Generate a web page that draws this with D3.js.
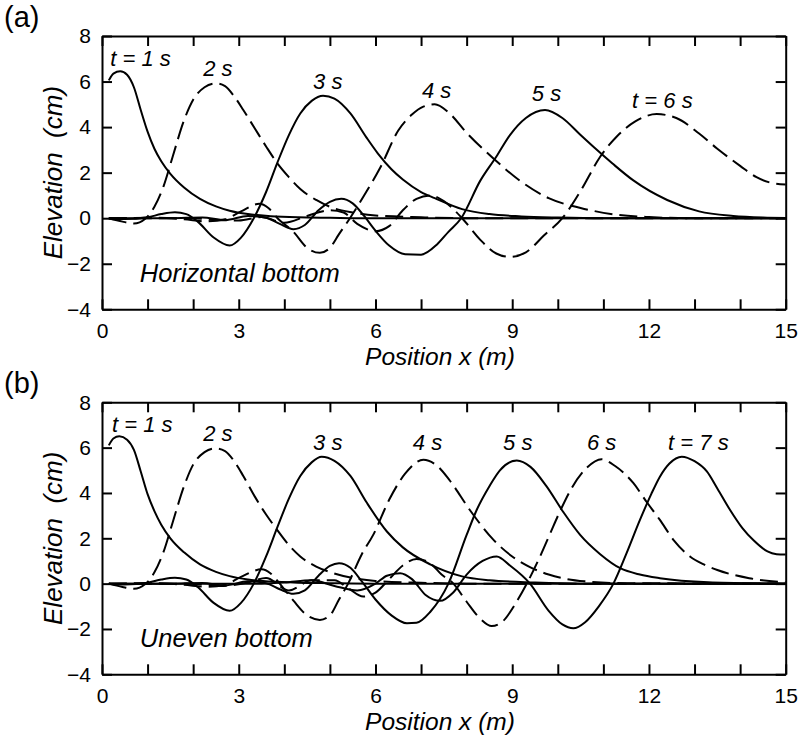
<!DOCTYPE html>
<html>
<head>
<meta charset="utf-8">
<script src="https://cdn.jsdelivr.net/npm/d3@7"></script>
<style>
  body { margin: 0; background: white; }
  text { font-family: "Liberation Sans", Arial, sans-serif; }
</style>
</head>
<body>
<div id="chart"></div>
<script>
//Axis ticks
var xTicks = d3.range(0, 16, 1);
var xLabels = [0, 3, 6, 9, 12, 15];
var yTicks = [-4, -2, 0, 2, 4, 6, 8];

//(a) Horizontal bottom, wave profiles [x (m), elevation (cm)]
var topT1 = [[0.15,6.05],[0.25,6.35],[0.4,6.45],[0.55,6.3],[0.7,5.75],[0.85,4.75],[1.0,3.8],[1.15,3.05],[1.3,2.5],[1.5,1.95],[1.8,1.35],[2.15,0.85],[2.5,0.52],[2.8,0.33],[3.2,0.18],[3.7,0.09],[4.3,0.04],[5,0.02],[6,0],[15,0]];
var topT2 = [[0.15,0],[0.45,-0.15],[0.7,-0.23],[0.95,-0.02],[1.15,0.5],[1.35,1.4],[1.55,2.7],[1.8,4.3],[2.0,5.2],[2.25,5.75],[2.5,5.92],[2.7,5.8],[2.9,5.35],[3.1,4.75],[3.35,3.95],[3.6,3.15],[3.85,2.4],[4.1,1.8],[4.35,1.28],[4.7,0.8],[5.0,0.5],[5.5,0.25],[6,0.12],[7,0.04],[8,0],[15,0]];
var topT3 = [[0.15,0],[0.5,-0.04],[1.0,0.04],[1.3,0.18],[1.6,0.26],[1.85,0.18],[2.1,-0.15],[2.45,-0.85],[2.8,-1.2],[3.05,-0.85],[3.33,0],[3.6,1.15],[3.85,2.45],[4.1,3.65],[4.35,4.6],[4.6,5.15],[4.85,5.38],[5.1,5.25],[5.45,4.6],[5.8,3.55],[6.05,2.85],[6.35,2.15],[6.6,1.7],[7.0,1.15],[7.3,0.88],[7.9,0.4],[8.5,0.18],[9.2,0.08],[10,0.03],[11,0],[15,0]];
var topT4 = [[0.15,0],[1.2,0.02],[1.8,-0.05],[2.3,-0.14],[2.7,-0.05],[3.05,0.3],[3.45,0.63],[3.65,0.45],[3.85,0],[4.2,-0.6],[4.5,-1.3],[4.78,-1.52],[5.0,-1.3],[5.2,-0.7],[5.44,0],[5.75,1.0],[6.1,2.2],[6.5,3.85],[6.8,4.55],[7.05,4.9],[7.3,5.0],[7.6,4.65],[8.0,3.75],[8.6,2.6],[9.2,1.6],[9.8,0.88],[10.5,0.45],[11.3,0.15],[12,0.05],[13,0],[15,0]];
var topT5 = [[0.15,0],[1.5,0],[2.2,0.03],[2.7,-0.08],[3.2,0.1],[3.6,0.02],[3.9,-0.25],[4.2,-0.48],[4.45,-0.3],[4.75,0.35],[5.0,0.72],[5.25,0.85],[5.5,0.65],[5.75,0.1],[6.0,-0.55],[6.3,-1.2],[6.65,-1.58],[7.0,-1.6],[7.35,-1.15],[7.6,-0.6],[7.88,0],[8.3,1.65],[8.65,2.7],[8.95,3.65],[9.3,4.4],[9.72,4.75],[10.1,4.4],[10.5,3.65],[10.8,3.1],[11.2,2.4],[11.65,1.67],[12.4,0.8],[13.1,0.3],[13.85,0.1],[14.5,0.03],[15,0.01]];
var topT6 = [[0.15,0],[2.0,0],[2.5,-0.08],[3.0,-0.1],[3.5,0.05],[4.0,-0.2],[4.5,0.1],[5.0,0.35],[5.3,0.25],[5.6,-0.25],[6.0,-0.57],[6.3,-0.35],[6.6,0.35],[6.9,0.85],[7.2,1.0],[7.5,0.75],[7.9,0],[8.3,-0.95],[8.65,-1.55],[8.95,-1.7],[9.3,-1.5],[9.7,-0.75],[10.1,0],[10.5,1.2],[10.93,2.7],[11.3,3.6],[11.7,4.25],[12.17,4.57],[12.6,4.4],[13.1,3.72],[13.5,3.05],[14.0,2.3],[14.36,1.8],[14.65,1.57],[15,1.48]];

//(b) Uneven bottom, wave profiles
var botT1 = [[0.15,6.1],[0.25,6.4],[0.38,6.5],[0.55,6.35],[0.7,5.9],[0.85,4.95],[1.0,3.95],[1.15,3.2],[1.3,2.6],[1.5,2.0],[1.8,1.38],[2.15,0.85],[2.5,0.52],[2.8,0.33],[3.2,0.18],[3.7,0.09],[4.3,0.04],[5,0.02],[6,0],[15,0]];
var botT2 = [[0.15,0],[0.45,-0.15],[0.7,-0.23],[0.95,-0.02],[1.15,0.5],[1.35,1.4],[1.55,2.7],[1.8,4.3],[2.0,5.25],[2.25,5.8],[2.48,5.97],[2.7,5.85],[2.9,5.4],[3.1,4.75],[3.35,3.85],[3.6,3.05],[3.85,2.35],[4.1,1.7],[4.35,1.2],[4.7,0.75],[5.08,0.46],[5.5,0.25],[6,0.12],[7,0.04],[8,0],[15,0]];
var botT3 = [[0.15,0],[0.5,-0.04],[1.0,0.04],[1.3,0.18],[1.6,0.26],[1.85,0.18],[2.1,-0.15],[2.45,-0.85],[2.8,-1.2],[3.05,-0.85],[3.33,0],[3.6,1.2],[3.85,2.5],[4.1,3.75],[4.35,4.75],[4.6,5.35],[4.82,5.6],[5.1,5.42],[5.45,4.75],[5.8,3.6],[6.25,2.3],[6.6,1.6],[7.2,0.85],[7.9,0.32],[8.5,0.15],[9.5,0.05],[10.5,0],[15,0]];
var botT4 = [[0.15,0],[1.2,0.02],[1.8,-0.05],[2.3,-0.14],[2.7,-0.05],[3.05,0.3],[3.5,0.63],[3.7,0.45],[3.9,0],[4.2,-0.75],[4.5,-1.4],[4.78,-1.6],[5.0,-1.4],[5.2,-0.7],[5.4,0],[5.7,1.3],[5.95,2.15],[6.3,3.7],[6.65,4.85],[7.05,5.46],[7.35,5.2],[7.63,4.55],[8.07,3.25],[8.58,1.95],[9.0,1.2],[9.4,0.72],[9.8,0.4],[10.2,0.2],[10.6,0.1],[11.5,0.02],[15,0]];
var botT5 = [[0.15,0],[1.5,0],[2.2,0.03],[2.7,-0.08],[3.2,0.1],[3.6,0.02],[3.9,-0.25],[4.2,-0.45],[4.45,-0.3],[4.75,0.35],[5.0,0.78],[5.2,0.9],[5.45,0.7],[5.7,0.1],[6.0,-0.7],[6.35,-1.4],[6.69,-1.75],[6.9,-1.73],[7.2,-1.25],[7.6,0],[8.0,2.15],[8.22,3.25],[8.5,4.3],[8.73,5.0],[9.1,5.43],[9.4,5.15],[9.75,4.3],[10.12,3.16],[10.49,2.15],[10.93,1.3],[11.37,0.68],[11.8,0.4],[12.24,0.24],[13.3,0.06],[14.5,0.01],[15,0]];
var botT6 = [[0.15,0],[2.0,0],[2.6,-0.1],[3.2,0.05],[3.6,0.25],[4.1,-0.3],[4.6,0.15],[5.1,0.15],[5.4,-0.2],[5.73,-0.57],[6.0,-0.4],[6.3,0.2],[6.6,0.8],[6.9,1.09],[7.2,0.9],[7.45,0.4],[7.71,0],[8.0,-0.8],[8.3,-1.55],[8.55,-1.87],[8.8,-1.65],[9.05,-0.95],[9.32,0],[9.6,1.15],[9.83,2.2],[10.05,3.2],[10.3,4.2],[10.63,5.1],[10.96,5.49],[11.25,5.2],[11.66,4.43],[11.95,3.6],[12.24,2.81],[12.55,1.9],[12.9,1.2],[13.2,0.85],[13.5,0.6],[14.2,0.24],[15,0.06]];
var botT7 = [[0.15,0],[3.5,0],[4.0,0.05],[4.6,0.15],[5.1,-0.1],[5.6,-0.3],[6.0,0],[6.25,0.35],[6.54,0.46],[6.8,0.2],[7.1,-0.5],[7.42,-0.76],[7.7,-0.4],[8.0,0.4],[8.35,1.0],[8.66,1.2],[8.95,0.8],[9.39,0],[9.8,-1.2],[10.1,-1.8],[10.34,-1.97],[10.6,-1.7],[10.9,-1.0],[11.22,0],[11.5,1.3],[11.8,2.8],[12.05,3.95],[12.24,4.72],[12.45,5.3],[12.72,5.6],[13.0,5.4],[13.27,4.95],[13.5,4.2],[13.78,3.25],[14.05,2.45],[14.3,1.9],[14.6,1.42],[14.8,1.3],[15,1.28]];

//Curve labels
var labelsA = ["t = 1 s", "2 s", "3 s", "4 s", "5 s", "t = 6 s"];
var labelsB = ["t = 1 s", "2 s", "3 s", "4 s", "5 s", "6 s", "t = 7 s"];

//Base svg
var svg = d3.select("#chart")
            .append("svg")
            .attr("width", 798)
            .attr("height", 742)
            .style("background-color", "white");

var x = d3.scaleLinear().domain([0, 15]).range([102, 785.7]);

function drawPanel(top, bottom, curves, labels, labelPos, note, letter) {
  var y = d3.scaleLinear().domain([-4, 8]).range([bottom, top]);
  var g = svg.append("g");

  var line = d3.line()
               .x(function(d) { return x(d[0]); })
               .y(function(d) { return y(d[1]); })
               .curve(d3.curveMonotoneX);

  //wave profiles, odd times solid, even times dashed
  g.selectAll(".wave")
   .data(curves)
   .enter()
   .append("path")
   .attr("d", line)
   .attr("fill", "none")
   .attr("stroke", "black")
   .attr("stroke-width", 2)
   .attr("stroke-linejoin", "round")
   .attr("stroke-dasharray", function(d, i) { return i % 2 == 1 ? "18,7" : null; });

  //frame + inward ticks
  var axB = d3.axisBottom(x).tickValues(xTicks).tickSizeInner(-10).tickSizeOuter(0).tickPadding(14)
              .tickFormat(function(d) { return xLabels.indexOf(d) >= 0 ? d : ""; });
  var axT = d3.axisTop(x).tickValues(xTicks).tickSizeInner(-10).tickSizeOuter(0).tickFormat("");
  var axL = d3.axisLeft(y).tickValues(yTicks).tickSizeInner(-10).tickSizeOuter(0).tickPadding(11)
              .tickFormat(d3.format("d"));
  var axR = d3.axisRight(y).tickValues(yTicks).tickSizeInner(-10).tickSizeOuter(0).tickFormat("");

  var axes = [
    g.append("g").attr("transform", "translate(0," + bottom + ")").call(axB),
    g.append("g").attr("transform", "translate(0," + top + ")").call(axT),
    g.append("g").attr("transform", "translate(102,0)").call(axL),
    g.append("g").attr("transform", "translate(785.7,0)").call(axR)
  ];
  axes.forEach(function(a) {
    a.selectAll("path, line").attr("stroke", "black").attr("stroke-width", 2);
    a.selectAll("text").attr("font-size", 21).attr("fill", "black")
     .style("font-family", "'Liberation Sans', Arial, sans-serif");
  });

  //curve labels
  g.selectAll(".lab")
   .data(labels)
   .enter()
   .append("text")
   .attr("x", function(d, i) { return x(labelPos[i][0]); })
   .attr("y", function(d, i) { return y(labelPos[i][1]); })
   .attr("font-size", 22)
   .attr("font-style", "italic")
   .text(function(d) { return d; });

  g.append("text")
   .attr("x", x(0.83))
   .attr("y", y(-2.8))
   .attr("font-size", 25.5)
   .attr("font-style", "italic")
   .text(note);

  //axis titles
  g.append("text")
   .attr("x", 440)
   .attr("y", bottom + 56)
   .attr("text-anchor", "middle")
   .attr("font-size", 24.5)
   .attr("font-style", "italic")
   .text("Position x (m)");

  g.append("text")
   .attr("transform", "translate(62," + (top + bottom) / 2 + ") rotate(-90)")
   .attr("text-anchor", "middle")
   .attr("font-size", 26)
   .attr("font-style", "italic")
   .style("white-space", "pre")
   .text("Elevation  (cm)");

  g.append("text")
   .attr("x", 4)
   .attr("y", top - 9)
   .attr("font-size", 29)
   .text(letter);
}

drawPanel(36, 309.3, [topT1, topT2, topT3, topT4, topT5, topT6], labelsA,
          [[0.18,6.68],[2.22,6.24],[4.63,5.67],[7.02,5.28],[9.43,5.14],[11.63,4.84]],
          "Horizontal bottom", "(a)");

drawPanel(402.3, 674.3, [botT1, botT2, botT3, botT4, botT5, botT6, botT7], labelsB,
          [[0.22,6.69],[2.22,6.29],[4.63,5.89],[6.82,5.89],[8.8,5.89],[10.64,5.89],[12.42,5.89]],
          "Uneven bottom", "(b)");
</script>
</body>
</html>
